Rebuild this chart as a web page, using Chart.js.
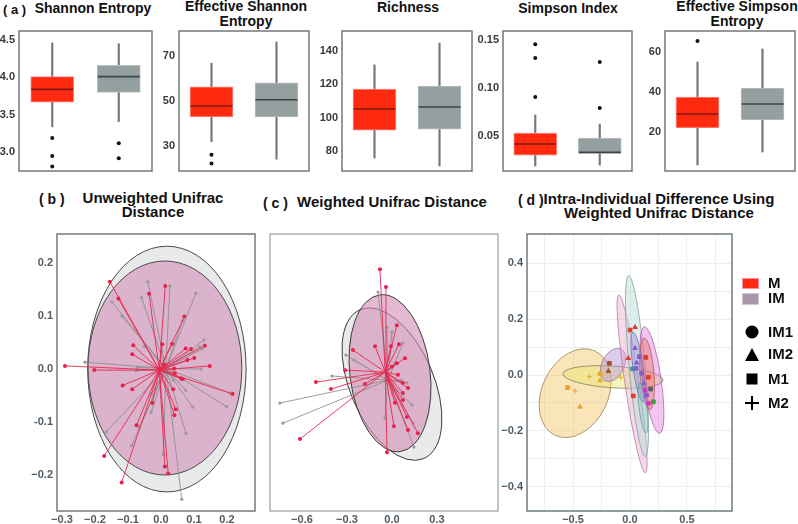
<!DOCTYPE html>
<html>
<head>
<meta charset="utf-8">
<script src="https://cdn.jsdelivr.net/npm/chart.js@4.4.0/dist/chart.umd.min.js"></script>
<style>
body{margin:0;background:#fff;width:798px;height:524px;overflow:hidden;position:relative;font-family:"Liberation Sans",Arial,sans-serif;}
canvas{position:absolute;}
.t{position:absolute;font-weight:bold;color:#111;white-space:nowrap;transform:translateX(-50%);text-align:center;}
.lab{position:absolute;font-weight:bold;color:#111;white-space:nowrap;}
.leg{position:absolute;font-weight:bold;font-size:15px;color:#111;line-height:16px;}
</style>
</head>
<body>
<div class="lab" style="left:3px;top:2px;font-size:13px;">( a )</div>
<div class="t" style="left:93px;top:1px;font-size:14px;line-height:15px;">Shannon Entropy</div>
<div class="t" style="left:246px;top:-1px;font-size:14px;line-height:15px;">Effective Shannon<br>Entropy</div>
<div class="t" style="left:408px;top:0px;font-size:14px;line-height:15px;">Richness</div>
<div class="t" style="left:568px;top:1px;font-size:14px;line-height:15px;">Simpson Index</div>
<div class="t" style="left:737px;top:-1px;font-size:14px;line-height:15px;">Effective Simpson<br>Entropy</div>

<div class="lab" style="left:39px;top:191px;font-size:14px;">( b )</div>
<div class="t" style="left:153px;top:191px;font-size:15px;line-height:14px;">Unweighted Unifrac<br>Distance</div>
<div class="lab" style="left:263px;top:195px;font-size:14px;">( c )</div>
<div class="t" style="left:392px;top:195px;font-size:15px;line-height:14px;">Weighted Unifrac Distance</div>
<div class="lab" style="left:518px;top:192px;font-size:14px;">( d )</div>
<div class="t" style="left:659px;top:192px;font-size:15px;line-height:14px;">Intra-Individual Difference Using<br>Weighted Unifrac Distance</div>

<canvas id="p1" width="155" height="145" style="left:0px;top:29px;"></canvas>
<canvas id="p2" width="160" height="145" style="left:152px;top:29px;"></canvas>
<canvas id="p3" width="163" height="145" style="left:312px;top:29px;"></canvas>
<canvas id="p4" width="160" height="145" style="left:475px;top:29px;"></canvas>
<canvas id="p5" width="163" height="145" style="left:635px;top:29px;"></canvas>
<canvas id="pb" width="230" height="296" style="left:30px;top:228px;"></canvas>
<canvas id="pc" width="240" height="296" style="left:262px;top:228px;"></canvas>
<canvas id="pd" width="236" height="296" style="left:500px;top:228px;"></canvas>

<div style="position:absolute;left:742px;top:278px;width:15px;height:9px;background:#ff2a10;border:1px solid #ff8fa0;"></div>
<div class="leg" style="left:768px;top:275px;">M</div>
<div style="position:absolute;left:742px;top:293px;width:15px;height:10px;background:#a898a8;border:1px solid #d0c4d8;"></div>
<div class="leg" style="left:768px;top:290px;">IM</div>
<svg style="position:absolute;left:742px;top:320px;" width="22" height="95">
  <circle cx="10" cy="12" r="6.5" fill="#000"/>
  <polygon points="3,41 17,41 10,28" fill="#000"/>
  <rect x="4.5" y="53.5" width="11" height="11" fill="#000"/>
  <path d="M10 76 V90 M3 83 H17" stroke="#000" stroke-width="2"/>
</svg>
<div class="leg" style="left:768px;top:324px;">IM1</div>
<div class="leg" style="left:768px;top:346px;">IM2</div>
<div class="leg" style="left:768px;top:371px;">M1</div>
<div class="leg" style="left:768px;top:395px;">M2</div>

<script>
// ---- (a) box plots: [lower whisker, Q1, median, Q3, upper whisker]
const BOX_GROUPS = ['M', 'IM'];

const SHANNON_M = [3.34, 3.67, 3.84, 4.01, 4.46];
const SHANNON_IM = [3.41, 3.80, 4.01, 4.16, 4.45];
const SHANNON_OUT_M = [3.19, 2.95, 2.81];
const SHANNON_OUT_IM = [3.12, 2.92];
const SHANNON_TICKS = [3.0, 3.5, 4.0, 4.5];
const SHANNON_LABELS = ['3.0', '3.5', '4.0', '4.5'];

const EFF_SHANNON_M = [31.8, 42.8, 47.7, 56.3, 66.8];
const EFF_SHANNON_IM = [24.0, 42.8, 50.5, 58.1, 76.3];
const EFF_SHANNON_OUT_M = [26, 22];
const EFF_SHANNON_OUT_IM = [];
const EFF_SHANNON_TICKS = [30, 50, 70];
const EFF_SHANNON_LABELS = ['30', '50', '70'];

const RICHNESS_M = [75.9, 92.6, 105.2, 117.2, 131.6];
const RICHNESS_IM = [71.1, 93.2, 106.4, 119.0, 144.7];
const RICHNESS_OUT_M = [];
const RICHNESS_OUT_IM = [];
const RICHNESS_TICKS = [80, 100, 120, 140];
const RICHNESS_LABELS = ['80', '100', '120', '140'];

const SIMPSON_M = [0.0191, 0.0305, 0.042, 0.0534, 0.0722];
const SIMPSON_IM = [0.0201, 0.0323, 0.0333, 0.0482, 0.0628];
const SIMPSON_OUT_M = [0.146, 0.1316, 0.091];
const SIMPSON_OUT_IM = [0.1274, 0.0795];
const SIMPSON_TICKS = [0.05, 0.10, 0.15];
const SIMPSON_LABELS = ['0.05', '0.10', '0.15'];

const EFF_SIMPSON_M = [3.5, 22, 29, 37.5, 55];
const EFF_SIMPSON_IM = [10, 26, 34, 42, 61.5];
const EFF_SIMPSON_OUT_M = [65.5];
const EFF_SIMPSON_OUT_IM = [];
const EFF_SIMPSON_TICKS = [20, 40, 60];
const EFF_SIMPSON_LABELS = ['20', '40', '60'];

// ---- (b) unweighted unifrac PCoA
const B_RED_X = [-0.155, -0.129, -0.036, 0.013, 0.071, 0.004, 0.034, -0.084, -0.087, 0.075, 0.091, 0.133, 0.101, 0.080, 0.148, 0.040, 0.042, 0.061, 0.066, -0.291, -0.202, -0.116, -0.087, 0.037, 0.217, -0.026, 0.045, 0.041, -0.074, -0.172, 0.012, 0.022, -0.119, 0.010];
const B_RED_Y = [0.165, 0.133, 0.142, 0.157, 0.099, 0.047, 0.048, 0.045, 0.028, 0.039, 0.038, 0.044, 0.021, 0.017, 0.006, 0.001, -0.008, -0.018, -0.019, 0.006, -0.002, -0.031, -0.038, -0.038, -0.047, -0.064, -0.076, -0.087, -0.106, -0.164, -0.184, -0.197, -0.214, 0.008];
const B_GRAY_X = [-0.040, 0.027, 0.106, -0.059, -0.149, -0.119, 0.065, 0.130, 0.118, 0.125, -0.051, -0.230, -0.072, -0.076, 0.121, 0.209, 0.199, 0.096, 0.075, -0.028, -0.030, -0.066, 0.076, -0.165, -0.089, 0.007, 0.063, 0.037];
const B_GRAY_Y = [0.165, 0.157, 0.143, 0.135, 0.127, 0.100, 0.091, 0.055, 0.043, 0.038, 0.043, 0.013, 0.003, -0.003, 0.000, -0.045, -0.071, -0.072, -0.040, -0.047, -0.082, -0.110, -0.121, -0.118, -0.145, -0.161, -0.246, -0.021];
const B_RED_CENTER = [-0.005, -0.002];
const B_GRAY_CENTER = [0.015, 0.001];
// [cx, cy, axis1 dx, axis1 dy, axis2 dx, axis2 dy]
const B_ELLIPSES = [[0.018, 0.0, 0.24, 0, 0, 0.232], [0.012, 0.002, 0.233, 0, 0, 0.202]];
const B_X_TICKS = [-0.3, -0.2, -0.1, 0, 0.1, 0.2];
const B_X_LABELS = ['\u22120.3', '\u22120.2', '\u22120.1', '0.0', '0.1', '0.2'];
const B_Y_TICKS = [-0.2, -0.1, 0, 0.1, 0.2];
const B_Y_LABELS = ['\u22120.2', '-0.1', '0.0', '0.1', '0.2'];

// ---- (c) weighted unifrac PCoA
const C_RED_X = [-0.08, -0.04, 0.033, -0.113, -0.007, 0.047, -0.26, 0.087, 0.033, -0.313, -0.507, -0.407, -0.18, 0.073, 0.073, 0.073, 0.013, 0.107, 0.173, -0.613, -0.033, 0.02, 0.1, 0.04, 0.0, 0.107];
const C_RED_Y = [0.369, 0.305, 0.168, 0.093, 0.093, 0.1, 0.079, 0.05, 0.032, 0.007, -0.036, -0.061, -0.043, -0.039, -0.075, -0.1, -0.194, -0.208, -0.219, -0.24, -0.287, -0.11, -0.161, -0.01, 0.02, -0.057];
const C_GRAY_X = [-0.093, -0.033, 0.0, 0.073, -0.307, -0.253, -0.4, -0.747, -0.727, 0.1, 0.133, 0.14, 0.147, -0.047, 0.013, 0.02, 0.06];
const C_GRAY_Y = [0.287, 0.161, 0.143, 0.104, 0.061, 0.043, -0.014, -0.111, -0.183, -0.039, -0.118, -0.183, -0.269, -0.165, -0.065, 0.032, -0.03];
const C_RED_CENTER = [-0.045, 0.0];
const C_GRAY_CENTER = [-0.027, -0.029];
const C_ELLIPSES = [[0.0, -0.043, -0.212, 0.267, 0.257, 0.059], [-0.013, -0.004, -0.067, 0.281, 0.265, 0.018]];
const C_X_TICKS = [-0.6, -0.3, 0, 0.3];
const C_X_LABELS = ['\u22120.6', '\u22120.3', '0.0', '0.3'];

// ---- (d) intra-individual difference
const D_X = [-0.547, -0.439, -0.263, -0.263, -0.181, -0.190, -0.357, -0.482, -0.082, -0.015, 0.0, 0.044, 0.029, 0.138, 0.161, 0.023, 0.205, 0.181, 0.058, 0.082, 0.102, 0.123, 0.146, 0.044, 0.053, 0.132, 0.161];
const D_Y = [-0.045, -0.114, 0.004, -0.020, 0.042, 0.014, -0.006, -0.057, -0.008, 0.060, 0.161, 0.171, -0.075, 0.063, -0.008, 0.022, -0.096, -0.050, 0.044, 0.066, 0.006, -0.030, -0.072, 0.096, 0.024, -0.054, -0.101];
const D_SHAPE = [2, 1, 2, 1, 2, 1, 3, 3, 3, 1, 2, 1, 2, 2, 2, 2, 2, 2, 1, 2, 2, 1, 2, 1, 2, 2, 2];
const D_IND = [0, 0, 1, 1, 2, 2, 1, 0, 1, 3, 3, 3, 3, 3, 3, 5, 6, 7, 4, 4, 4, 4, 4, 4, 4, 8, 8];
const D_ELLIPSES = [
  [-0.482, -0.065, 0.175, 0.151, 0.263, -0.050],
  [-0.149, -0.007, 0.439, -0.011, 0, 0.039],
  [-0.149, 0.036, 0.070, 0.057, 0.088, -0.018],
  [0.018, -0.032, -0.117, 0.319, 0.061, 0.0037],
  [0.061, 0.032, -0.073, 0.324, 0.070, 0.0025],
  [0.193, -0.018, -0.068, 0.191, 0.079, 0.005],
  [0.149, 0.004, -0.024, 0.128, 0.061, 0.002],
  [0.070, 0.029, -0.044, 0.125, 0.044, 0.0025],
  [0.114, -0.118, -0.026, 0.09, 0.035, 0]
];
const D_X_TICKS = [-0.75, -0.5, -0.25, 0, 0.25, 0.5, 0.75];
const D_X_LABELS = ['', '\u22120.5', '', '0.0', '', '0.5', ''];
const D_Y_TICKS = [-0.4, -0.3, -0.2, -0.1, 0, 0.1, 0.2, 0.3, 0.4];
const D_Y_LABELS = ['\u22120.4', '', '\u22120.2', '', '0.0', '', '0.2', '', '0.4'];

// ---- styles
const RED = '#ff2a10', RED_EDGE = '#ff8c80', GRAY = '#94a0a0', GRAY_EDGE = '#b9c1c1';
const FONT = '"Liberation Sans", Arial, sans-serif';
const IND_COLORS = ['#f0a030', '#ddb020', '#a0522d', '#e03a2a', '#8a5cc8', '#2f9aa0', '#3aa040', '#50607a', '#c83cc0'];
const SHAPES = ['circle', 'triangle', 'rect', 'cross'];
const D_FILLS = ['rgba(242,190,80,0.4)', 'rgba(235,230,110,0.45)', 'rgba(180,140,210,0.45)', 'rgba(230,160,200,0.4)',
  'rgba(190,222,215,0.5)', 'rgba(225,110,220,0.4)', 'rgba(235,110,90,0.4)', 'rgba(150,130,220,0.4)', 'rgba(120,190,190,0.35)'];
const D_STROKES = ['rgba(150,130,80,0.8)', 'rgba(130,130,90,0.8)', 'rgba(140,110,170,0.7)', 'rgba(180,110,150,0.7)',
  'rgba(120,150,150,0.7)', 'rgba(170,80,170,0.7)', 'rgba(170,80,70,0.7)', 'rgba(110,100,170,0.7)', 'rgba(90,140,140,0.6)'];

Chart.defaults.animation = false;
Chart.defaults.font.family = FONT;
Chart.defaults.plugins.legend.display = false;
Chart.defaults.plugins.tooltip.enabled = false;

function frame(color) {
  return {
    id: 'frame',
    afterDraw(chart) {
      const a = chart.chartArea, ctx = chart.ctx;
      ctx.save();
      ctx.strokeStyle = color;
      ctx.lineWidth = 1.5;
      ctx.strokeRect(a.left, a.top, a.right - a.left, a.bottom - a.top);
      ctx.restore();
    }
  };
}

function ellipses(list, fills, strokes) {
  return {
    id: 'ellipses',
    beforeDatasetsDraw(chart) {
      const xs = chart.scales.x, ys = chart.scales.y, ctx = chart.ctx, a = chart.chartArea;
      ctx.save();
      ctx.beginPath();
      ctx.rect(a.left, a.top, a.right - a.left, a.bottom - a.top);
      ctx.clip();
      list.forEach((e, i) => {
        const cx = xs.getPixelForValue(e[0]), cy = ys.getPixelForValue(e[1]);
        const ux = xs.getPixelForValue(e[0] + e[2]) - cx, uy = ys.getPixelForValue(e[1] + e[3]) - cy;
        const vx = xs.getPixelForValue(e[0] + e[4]) - cx, vy = ys.getPixelForValue(e[1] + e[5]) - cy;
        ctx.save();
        ctx.transform(ux, uy, vx, vy, cx, cy);
        ctx.beginPath();
        ctx.arc(0, 0, 1, 0, Math.PI * 2);
        ctx.restore();
        ctx.fillStyle = fills[i];
        ctx.fill();
        ctx.strokeStyle = strokes[i];
        ctx.lineWidth = 1;
        ctx.stroke();
      });
      ctx.restore();
    }
  };
}

function fixedY(width, ticks, labels, min, max, show) {
  return {
    min: min, max: max, display: show,
    grid: {display: false, drawTicks: false},
    border: {display: false},
    afterBuildTicks: s => { s.ticks = ticks.map(v => ({value: v})); },
    afterFit: s => { s.width = width; s.paddingTop = 0; s.paddingBottom = 0; },
    ticks: {callback: (v, i) => labels[i], font: {size: 11, weight: 'bold'}, color: '#3a3a3a', padding: 4}
  };
}

function boxChart(id, m, im, outM, outIm, ticks, labels, min, max, axisWidth) {
  const out = outM.map(v => ({x: 'M', y: v})).concat(outIm.map(v => ({x: 'IM', y: v})));
  new Chart(document.getElementById(id), {
    type: 'bar',
    data: {
      labels: BOX_GROUPS,
      datasets: [
        {type: 'scatter', data: out, pointRadius: 2, backgroundColor: '#111', borderWidth: 0, order: 0},
        {type: 'line', data: [m[2], im[2]], showLine: false, pointStyle: 'line', pointRadius: 21,
          pointBorderColor: ['#7d1a0e', '#3c4444'], pointBorderWidth: 1.6, order: 1},
        {data: [[m[1], m[3]], [im[1], im[3]]], backgroundColor: [RED, GRAY], borderColor: [RED_EDGE, GRAY_EDGE],
          borderWidth: 1, borderSkipped: false, barThickness: 43, grouped: false, order: 2},
        {data: [[m[0], m[4]], [im[0], im[4]]], backgroundColor: '#777777', barThickness: 1.5, grouped: false, order: 3}
      ]
    },
    options: {
      responsive: false, events: [],
      layout: {autoPadding: false, padding: {top: 2, bottom: 3, left: 0, right: 3}},
      scales: {
        x: {display: false},
        y: fixedY(axisWidth, ticks, labels, min, max, true)
      }
    },
    plugins: [frame('#777777')]
  });
}

boxChart('p1', SHANNON_M, SHANNON_IM, SHANNON_OUT_M, SHANNON_OUT_IM, SHANNON_TICKS, SHANNON_LABELS, 2.75, 4.62, 19);
boxChart('p2', EFF_SHANNON_M, EFF_SHANNON_IM, EFF_SHANNON_OUT_M, EFF_SHANNON_OUT_IM, EFF_SHANNON_TICKS, EFF_SHANNON_LABELS, 18.7, 81.2, 27);
boxChart('p3', RICHNESS_M, RICHNESS_IM, RICHNESS_OUT_M, RICHNESS_OUT_IM, RICHNESS_TICKS, RICHNESS_LABELS, 68.1, 151.9, 30);
boxChart('p4', SIMPSON_M, SIMPSON_IM, SIMPSON_OUT_M, SIMPSON_OUT_IM, SIMPSON_TICKS, SIMPSON_LABELS, 0.0139, 0.1597, 28);
boxChart('p5', EFF_SIMPSON_M, EFF_SIMPSON_IM, EFF_SIMPSON_OUT_M, EFF_SIMPSON_OUT_IM, EFF_SIMPSON_TICKS, EFF_SIMPSON_LABELS, 0.5, 70.5, 30);

function points(xs, ys) {
  return xs.map((x, i) => ({x: x, y: ys[i]}));
}
function spokes(xs, ys, c) {
  const out = [];
  xs.forEach((x, i) => { out.push({x: c[0], y: c[1]}, {x: x, y: ys[i]}, {x: x, y: null}); });
  return out;
}

function xAxis(ticks, labels, min, max, grid) {
  return {
    min: min, max: max,
    grid: grid || {display: false, drawTicks: false},
    border: {display: false},
    afterBuildTicks: s => { s.ticks = ticks.map(v => ({value: v})); },
    afterFit: s => { s.height = 13; s.paddingLeft = 0; s.paddingRight = 0; },
    ticks: {callback: (v, i) => labels[i], font: {size: 11, weight: 'bold'}, color: '#4f5a63', padding: 2, maxRotation: 0, autoSkip: false}
  };
}

function pcoaSets(rx, ry, rc, gx, gy, gc) {
  return [
    {data: points(rx, ry), pointRadius: 2, backgroundColor: '#e8204a', borderWidth: 0, order: 0},
    {data: spokes(rx, ry, rc), showLine: true, pointRadius: 0, borderColor: 'rgba(232,40,80,0.9)', borderWidth: 1, order: 1},
    {data: points(gx, gy), pointRadius: 1.6, backgroundColor: '#999', borderWidth: 0, order: 2},
    {data: spokes(gx, gy, gc), showLine: true, pointRadius: 0, borderColor: 'rgba(140,140,140,0.85)', borderWidth: 1, order: 3}
  ];
}

const byAxis = fixedY(27, B_Y_TICKS, B_Y_LABELS, -0.268, 0.255, true);
byAxis.ticks.color = '#4f5a63';
new Chart(document.getElementById('pb'), {
  type: 'scatter',
  data: {datasets: pcoaSets(B_RED_X, B_RED_Y, B_RED_CENTER, B_GRAY_X, B_GRAY_Y, B_GRAY_CENTER)},
  options: {
    responsive: false, events: [],
    layout: {autoPadding: false, padding: {top: 6, bottom: 0, left: 0, right: 5}},
    scales: {x: xAxis(B_X_TICKS, B_X_LABELS, -0.315, 0.285), y: byAxis}
  },
  plugins: [ellipses(B_ELLIPSES, ['#e7eae9', '#dbb3cc'], ['#4a4a4a', '#4a4a4a']), frame('#7a7a7a')]
});

new Chart(document.getElementById('pc'), {
  type: 'scatter',
  data: {datasets: pcoaSets(C_RED_X, C_RED_Y, C_RED_CENTER, C_GRAY_X, C_GRAY_Y, C_GRAY_CENTER)},
  options: {
    responsive: false, events: [],
    layout: {autoPadding: false, padding: {top: 6, bottom: 0, left: 8, right: 4}},
    scales: {x: xAxis(C_X_TICKS, C_X_LABELS, -0.813, 0.707), y: fixedY(0, [], [], -0.498, 0.495, false)}
  },
  plugins: [ellipses(C_ELLIPSES, ['#e8ebea', 'rgba(210,140,180,0.6)'], ['#3a3a3a', '#3a3a3a']), frame('#a9b2b2')]
});

const dGrid = {color: '#eeeeee', drawTicks: false, lineWidth: 1};
const dyAxis = fixedY(27, D_Y_TICKS, D_Y_LABELS, -0.487, 0.505, true);
dyAxis.grid = dGrid;
dyAxis.ticks.color = '#4f5a63';
new Chart(document.getElementById('pd'), {
  type: 'scatter',
  data: {datasets: [{
    data: points(D_X, D_Y),
    pointStyle: D_SHAPE.map(s => SHAPES[s]),
    pointRadius: 2.6,
    backgroundColor: D_IND.map(i => IND_COLORS[i]),
    borderColor: D_IND.map(i => IND_COLORS[i]),
    borderWidth: 1
  }]},
  options: {
    responsive: false, events: [],
    layout: {autoPadding: false, padding: {top: 6, bottom: 0, left: 0, right: 4}},
    scales: {x: xAxis(D_X_TICKS, D_X_LABELS, -0.904, 0.895, dGrid), y: dyAxis}
  },
  plugins: [ellipses(D_ELLIPSES, D_FILLS, D_STROKES), frame('#6d7b7b')]
});
</script>
</body>
</html>
